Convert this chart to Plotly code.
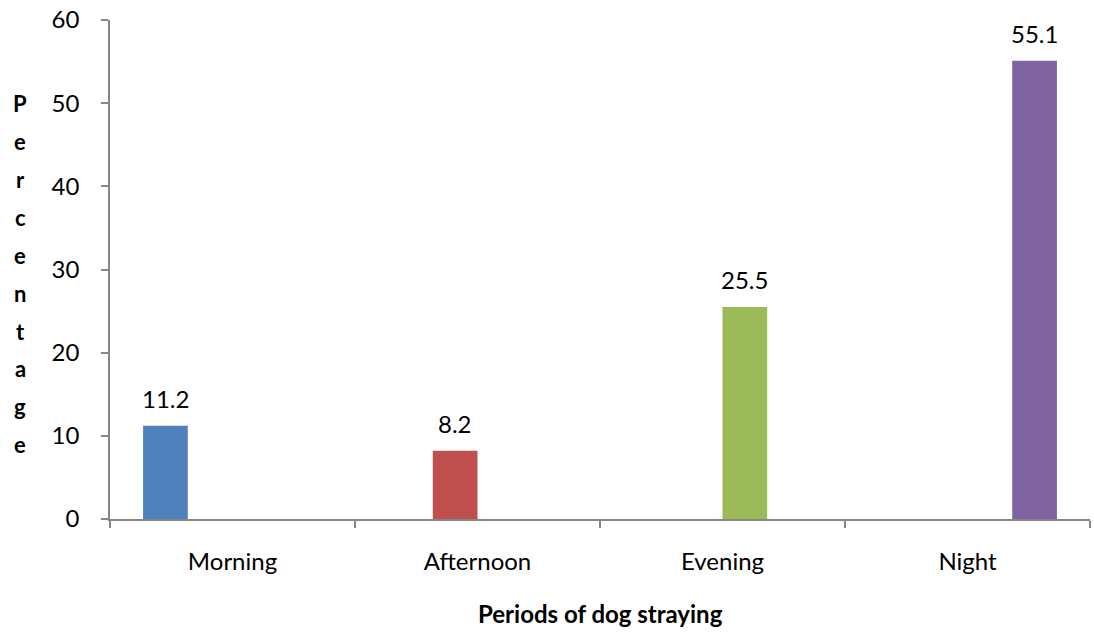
import plotly.graph_objects as go

categories = ["Morning", "Afternoon", "Evening", "Night"]
values = [11.2, 8.2, 25.5, 55.1]
colors = ["#4F81BD", "#C0504D", "#9BBB59", "#8064A2"]
y_title = "Percentage"
x_title = "Periods of dog straying"

FONT = "Lato"
AXIS_COLOR = "#868686"
TS = 24

fig = go.Figure()
n = len(categories)
for i, (cat, val, col) in enumerate(zip(categories, values, colors)):
    ys = [val if j == i else None for j in range(n)]
    fig.add_trace(go.Bar(x=categories, y=ys, name=cat, marker_color=col,
                         marker_line_width=0, showlegend=False))

# data labels (positioned over each series' slot within the group)
slot_shift = [-67, -22.3, 22.3, 67]
for i, (cat, val) in enumerate(zip(categories, values)):
    fig.add_annotation(x=cat, y=val, text=f"{val:.1f}", showarrow=False,
                       xshift=slot_shift[i], yshift=27, yanchor="middle",
                       font=dict(family=FONT, size=TS, color="#000000"))

# vertical stacked y-axis title
top_px, step_px, plot_top, plot_h = 104, 37.9, 20, 499.5
for k, ch in enumerate(y_title):
    ypx = top_px + k * step_px
    fig.add_annotation(xref="paper", yref="paper", x=-0.0915, y=(plot_top + plot_h - ypx) / plot_h,
                       text=f"<b>{ch}</b>", showarrow=False, xanchor="center", yanchor="middle",
                       font=dict(family=FONT, size=22, color="#000000"))

fig.add_annotation(xref="paper", yref="paper", x=0.5, y=-0.19, text=f"<b>{x_title}</b>",
                   showarrow=False, xanchor="center", yanchor="middle",
                   font=dict(family=FONT, size=24, color="#000000"))

fig.update_layout(
    width=1094, height=635,
    margin=dict(l=110, r=4, t=20, b=115.5),
    paper_bgcolor="white", plot_bgcolor="white",
    barmode="group", bargap=0.27, bargroupgap=0,
    font=dict(family=FONT, size=TS, color="#000000"),
)
fig.update_xaxes(type="category", range=[-0.5, 3.5], showline=True, linecolor=AXIS_COLOR,
                 linewidth=1.5, ticks="outside", tickson="boundaries", ticklen=7,
                 tickcolor=AXIS_COLOR, tickwidth=1.5, showgrid=False,
                 ticklabelstandoff=20, tickfont=dict(family=FONT, size=TS))
fig.update_yaxes(range=[0, 60], dtick=10, showline=True, linecolor=AXIS_COLOR, linewidth=1.5,
                 ticks="outside", ticklen=7, tickcolor=AXIS_COLOR, tickwidth=1.5,
                 showgrid=False, zeroline=False, ticklabelstandoff=17,
                 tickfont=dict(family=FONT, size=TS))

fig.write_html("out.html")
